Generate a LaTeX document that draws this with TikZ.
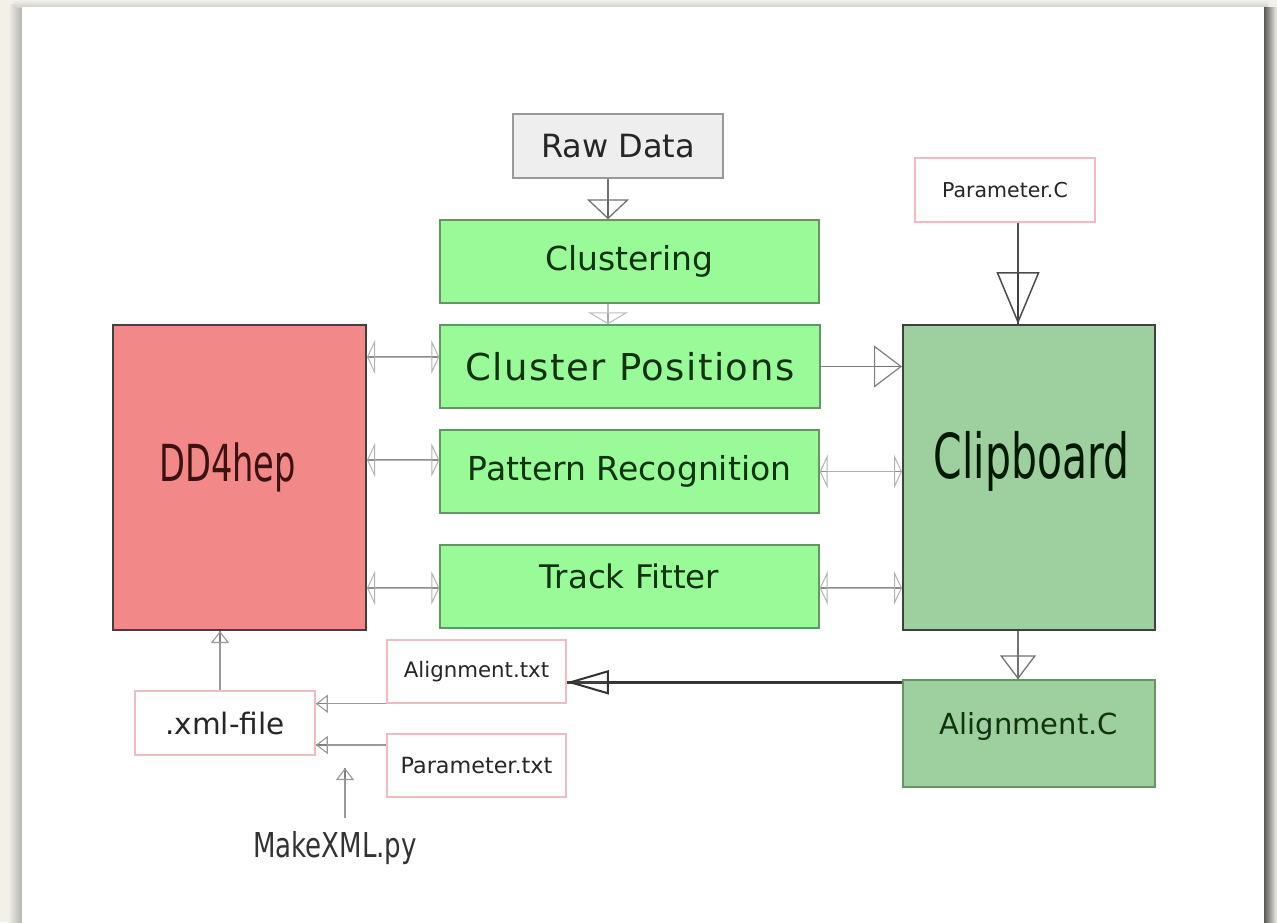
\documentclass[tikz,border=0pt]{standalone}
\usepackage{fontspec}
\setmainfont{DejaVu Sans}
\newfontfamily\narrowfont{DejaVu Sans}[FakeStretch=0.66]
\newfontfamily\pyfont{DejaVu Sans}[FakeStretch=0.76]
\newfontfamily\widefont{DejaVu Sans}[LetterSpace=4]
\usetikzlibrary{arrows.meta,calc}

\definecolor{paper}{RGB}{243,240,234}
\definecolor{lgreen}{RGB}{152,251,152}
\definecolor{mgreen}{RGB}{158,207,158}
\definecolor{salmon}{RGB}{242,136,136}
\definecolor{rawfill}{RGB}{238,238,238}
\definecolor{pinkedge}{RGB}{240,188,194}
\definecolor{gedge}{RGB}{100,150,100}
\definecolor{gtxt}{RGB}{18,50,18}
\definecolor{dtxt}{RGB}{58,18,18}
\newcommand\fsz[1]{\fontsize{#1}{#1}\selectfont}

\begin{document}
\begin{tikzpicture}[x=1pt,y=-1pt,
  greenbox/.style={draw=gedge, fill=lgreen, line width=1.4pt, inner sep=0pt,
    minimum width=379pt, minimum height=83pt, text=gtxt, font=\fsz{33}},
  darkbox/.style={draw=black!75, fill=#1, line width=2pt, inner sep=0pt,
    minimum width=253pt, minimum height=305pt},
  filebox/.style={draw=pinkedge, fill=white, line width=1.5pt, inner sep=0pt,
    minimum width=179pt, minimum height=63pt, text=black!85},
  wire/.style={draw=black!60, line width=1.6pt},
  swap/.style={draw=black!45, line width=1.2pt,
    postaction={draw=black!30, line width=1pt,
      {Triangle[open, length=8pt, width=34pt]}-{Triangle[open, length=8pt, width=34pt]}}},
  smallhead/.style={draw=black!50, line width=1.4pt,
    postaction={draw=black!40, line width=1.1pt, -{Triangle[open, length=12pt, width=18pt]}}}
]
\useasboundingbox (0,0) rectangle (1277,922);

% page background and card with its shadow
\fill[paper] (0,0) rectangle (1277,922);
\shade[left color=paper, right color=black!30] (8,4) rectangle (22,922);
\shade[top color=paper, bottom color=black!18] (14,0) rectangle (1268,7);
\shade[left color=black!65, right color=paper] (1264,7) rectangle (1277,922);
\fill[white] (22,7) rectangle (1264,922);

% processing chain
\node[draw=black!40, fill=rawfill, line width=1.4pt, inner sep=0pt,
  minimum width=210pt, minimum height=64pt, text=black!85, font=\fsz{32}]
  (raw) at (618,146) {Raw Data};
\node[greenbox] (clus) at (629.5,261.5) {Clustering};
\node[greenbox, minimum width=380pt, font=\fsz{37}\widefont] (cpos) at (630,366.5) {Cluster Positions};
\node[greenbox] (prec) at (629.5,471.5) {Pattern Recognition};
\node[greenbox] (trk) at (629.5,586.5) {};
\node[text=gtxt, font=\fsz{32.5}, inner sep=0pt] (trk-t) at ([yshift=10]trk.center) {Track Fitter};

% geometry and clipboard
\node[darkbox=salmon] (dd4) at (239.5,477.5) {};
\node[text=dtxt, font=\fsz{51}\narrowfont, inner sep=0pt] (dd4-t) at ([xshift=-12,yshift=10.5]dd4.center) {DD4hep};
\node[darkbox=mgreen, minimum width=252pt] (clip) at (1029,477.5) {};
\node[text=black!90!green, font=\fsz{62}\narrowfont, inner sep=0pt] (clip-t) at ([xshift=2.5,yshift=16.5]clip.center) {Clipboard};

% files and alignment
\node[filebox, minimum width=180pt, minimum height=64pt, font=\fsz{20.5}] (parC) at (1005,190) {Parameter.C};
\node[draw=gedge, fill=mgreen, line width=1.4pt, inner sep=0pt,
  minimum width=252pt, minimum height=107pt] (algC) at (1029,733.5) {};
\node[text=gtxt, font=\fsz{29}, inner sep=0pt] (algC-t) at ([yshift=7.5]algC.center) {Alignment.C};
\node[filebox, font=\fsz{21.3}] (algT) at (476.5,671.5) {Alignment.txt};
\node[filebox, font=\fsz{22.3}] (parT) at (476.5,765.5) {Parameter.txt};
\node[filebox, minimum width=180pt, minimum height=64pt, font=\fsz{29.5}] (xml) at (225,723) {.xml-file};
\node[text=black!80, font=\fsz{34.3}\pyfont, inner sep=0pt] (make) at (335,848) {MakeXML.py};
\coordinate (make-tip) at (345,768);

% data flow
\draw[wire, postaction={draw=black!55, line width=1.3pt, -{Triangle[open, length=20pt, width=42pt]}}]
  ([xshift=-10]raw.south) -- ([xshift=-10]raw.south |- clus.north);
\draw[draw=black!35, line width=1.3pt, postaction={draw=black!25, line width=1.1pt, -{Triangle[open, length=12pt, width=40pt]}}]
  ([xshift=-21.5]clus.south) -- ([xshift=-21.5]clus.south |- cpos.north);
\draw[draw=black!55, line width=1.5pt, postaction={draw=black!50, line width=1.2pt, -{Triangle[open, length=28pt, width=42pt]}}]
  (cpos.east) -- (cpos.east -| clip.west);
\draw[draw=black!75, line width=2pt, postaction={draw=black!70, line width=1.5pt, -{Triangle[open, length=52pt, width=43pt]}}]
  ([xshift=13]parC.south) -- ([xshift=13]parC.south |- clip.north);
\draw[draw=black!55, line width=1.6pt, postaction={draw=black!55, line width=1.3pt, -{Triangle[open, length=24pt, width=36pt]}}]
  ([xshift=-11]clip.south) -- ([xshift=-11]clip.south |- algC.north);
\draw[draw=black!75, line width=2.6pt, postaction={draw=black!80, line width=2pt, -{Triangle[open, length=42pt, width=24pt]}}]
  ([yshift=-3]algC.north west) -- ([yshift=-3]algC.north west -| algT.east);

% exchange with the geometry and the clipboard
\draw[swap] ([yshift=9.5]cpos.west) -- ([yshift=9.5]cpos.west -| dd4.east);
\draw[swap] ([yshift=11.5]prec.west) -- ([yshift=11.5]prec.west -| dd4.east);
\draw[swap] ([yshift=-1.5]trk.west) -- ([yshift=-1.5]trk.west -| dd4.east);
\draw[swap] (prec.east) -- (prec.east -| clip.west);
\draw[swap] ([yshift=-1.5]trk.east) -- ([yshift=-1.5]trk.east -| clip.west);

% inputs of the xml file
\draw[smallhead] (algT.south west) -- (algT.south west -| xml.east);
\draw[smallhead] ([yshift=20.5]parT.west) -- ([yshift=20.5]parT.west -| xml.east);
\draw[smallhead] ([xshift=-5]xml.north) -- ([xshift=-5]xml.north |- dd4.south);
\draw[smallhead] ([xshift=10,yshift=13]make.north) -- (make-tip);
\end{tikzpicture}
\end{document}
